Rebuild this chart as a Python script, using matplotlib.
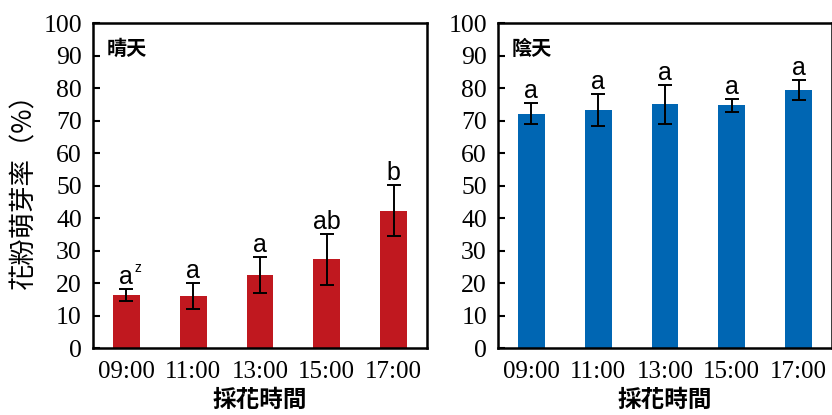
import numpy as np
import matplotlib
matplotlib.use("Agg")
from matplotlib import pyplot as plt

# data
times = ['09:00', '11:00', '13:00', '15:00', '17:00']
sunny_mean = [16.4, 16.0, 22.4, 27.3, 42.3]
sunny_err = [1.9, 4.1, 5.6, 7.8, 7.8]
sunny_letters = ['a', 'a', 'a', 'ab', 'b']
cloudy_mean = [72.1, 73.2, 75.0, 74.7, 79.4]
cloudy_err = [3.3, 5.0, 6.0, 2.0, 3.1]
cloudy_letters = ['a', 'a', 'a', 'a', 'a']

red = '#C0181F'
blue = '#0066B3'
serif = ['Liberation Serif', 'DejaVu Serif']
cjk = ['Noto Sans CJK TC', 'DejaVu Sans']
sans = ['Liberation Sans', 'DejaVu Sans']

fig = plt.figure(figsize=(8.32, 4.15), dpi=100)
ax1 = fig.add_axes([0.1118, 0.1614, 0.4014, 0.783])
ax2 = fig.add_axes([0.5986, 0.1614, 0.4014, 0.783])


def draw(ax, mean, err, letters, color, title):
    x = np.arange(len(times))
    ax.bar(x, mean, width=0.4, color=color, zorder=2)
    ax.errorbar(x, mean, yerr=err, fmt='none', ecolor='black',
                elinewidth=1.4, capsize=5, capthick=1.4, zorder=3)
    for xi, m, e, lab in zip(x, mean, err, letters):
        ax.annotate(lab, (xi, m + e), xytext=(0, 0), textcoords='offset points',
                    ha='center', va='bottom', fontsize=18, family=sans)
    ax.set_xlim(-0.5, 4.5)
    ax.set_ylim(0, 100)
    ax.set_yticks(range(0, 101, 10))
    ax.set_xticks(x)
    ax.set_xticklabels(times, family=serif, fontsize=18)
    for lbl in ax.get_yticklabels():
        lbl.set_family(serif)
        lbl.set_fontsize(18.5)
    ax.tick_params(axis='y', direction='in', length=5, width=1.5, pad=8)
    ax.tick_params(axis='x', length=0, pad=9)
    for s in ax.spines.values():
        s.set_linewidth(1.8)
    ax.set_xlabel('採花時間', family=cjk, fontsize=17, fontweight='bold', labelpad=4)
    ax.text(0.04, 0.955, title, transform=ax.transAxes, ha='left', va='top',
            family=cjk, fontsize=14.5, fontweight='bold')


draw(ax1, sunny_mean, sunny_err, sunny_letters, red, '晴天')
draw(ax2, cloudy_mean, cloudy_err, cloudy_letters, blue, '陰天')

# superscript z on first letter
ax1.annotate('z', (0, sunny_mean[0] + sunny_err[0]), xytext=(6, 10),
             textcoords='offset points', ha='left', va='bottom', fontsize=10, family=sans)

ax1.set_ylabel('花粉萌芽率（%）', family=cjk, fontsize=19, labelpad=4)

plt.savefig('out.png', dpi=100)
